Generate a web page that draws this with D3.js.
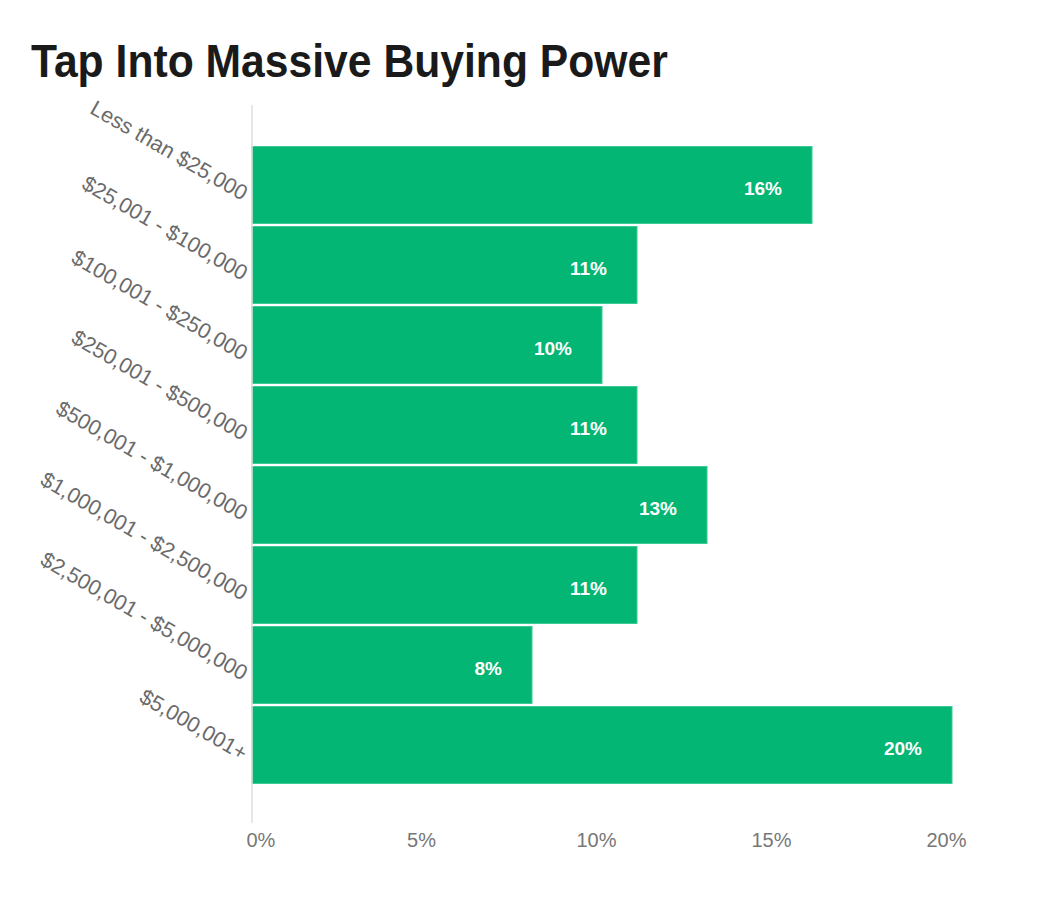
<!DOCTYPE html>
<html>
<head>
<meta charset="utf-8">
<script src="https://cdn.jsdelivr.net/npm/d3@7"></script>
<style>
  body { margin: 0; background: #fff; }
</style>
</head>
<body>
<script>
// data
var categories = ["Less than $25,000", "$25,001 - $100,000", "$100,001 - $250,000",
  "$250,001 - $500,000", "$500,001 - $1,000,000", "$1,000,001 - $2,500,000",
  "$2,500,001 - $5,000,000", "$5,000,001+"];
var shares = [16, 11, 10, 11, 13, 11, 8, 20];
var xTicks = [0, 5, 10, 15, 20];

var outWidth = 1060, outHeight = 900;
var margin = {top: 105, right: 108, bottom: 75, left: 252},
  width = outWidth - margin.left - margin.right,
  height = outHeight - margin.top - margin.bottom;

var svg = d3.select("body").append("svg")
  .attr("width", outWidth)
  .attr("height", outHeight);

// title - no narrow font available, so squeeze it horizontally
var title = svg.append("text")
  .attr("x", 0)
  .attr("y", 0)
  .style("font-family", "'Liberation Sans', Arial, sans-serif")
  .style("font-weight", "bold")
  .style("font-size", "47px")
  .style("fill", "#1a1a1a")
  .text("Tap Into Massive Buying Power");
var tw = title.node().getComputedTextLength();
title.attr("transform", "translate(31,77) scale(" + (637 / tw) + ",1)");

var g = svg.append("g")
  .attr("transform", "translate(" + margin.left + "," + margin.top + ")");

var xScale = d3.scaleLinear().domain([0, 20]).range([0, width]);
var yScale = d3.scaleBand().domain(categories).range([0, height])
  .paddingInner(0.0375).paddingOuter(0.51875);

// bars
g.selectAll("rect.bar")
  .data(shares)
  .enter().append("rect")
  .attr("class", "bar")
  .attr("x", 0)
  .attr("y", function(d, i) { return yScale(categories[i]); })
  .attr("width", function(d) { return xScale(d); })
  .attr("height", yScale.bandwidth())
  .attr("fill", "#03b673")
  .attr("stroke", "#3ccb92")
  .attr("stroke-width", 1);

// value labels
g.selectAll("text.val")
  .data(shares)
  .enter().append("text")
  .attr("class", "val")
  .attr("x", function(d) { return xScale(d) - 30; })
  .attr("y", function(d, i) { return yScale(categories[i]) + yScale.bandwidth() / 2 + 10; })
  .style("text-anchor", "end")
  .style("font-family", "'Liberation Sans', Arial, sans-serif")
  .style("font-weight", "bold")
  .style("font-size", "19px")
  .style("fill", "#fff")
  .text(function(d) { return d + "%"; });

// y axis (vertical line + rotated labels)
var yAxis = d3.axisLeft(yScale).tickSize(0);
var yg = g.append("g").call(yAxis);
yg.select(".domain").remove();
yg.selectAll(".tick text")
  .attr("x", 0)
  .attr("dy", 0)
  .attr("transform", "translate(-10,16) rotate(30)")
  .style("text-anchor", "end")
  .style("font-family", "'Liberation Sans', Arial, sans-serif")
  .style("font-size", "21.5px")
  .style("fill", "#6a6a6a");

g.append("line")
  .attr("x1", 0).attr("x2", 0)
  .attr("y1", 0).attr("y2", height - 2)
  .attr("stroke", "#dedede")
  .attr("stroke-width", 1.5);

// x axis
var xAxis = d3.axisBottom(xScale).tickValues(xTicks).tickSize(0)
  .tickFormat(function(d) { return d + "%"; });
var xg = g.append("g")
  .attr("transform", "translate(0," + height + ")")
  .call(xAxis);
xg.select(".domain").remove();
xg.selectAll(".tick text")
  .attr("y", 22)
  .attr("dy", 0)
  .attr("dx", -6)
  .style("text-anchor", function(d, i) { return i === 0 ? "start" : "middle"; })
  .style("font-family", "'Liberation Sans', Arial, sans-serif")
  .style("font-size", "20px")
  .style("fill", "#777");
</script>
</body>
</html>
